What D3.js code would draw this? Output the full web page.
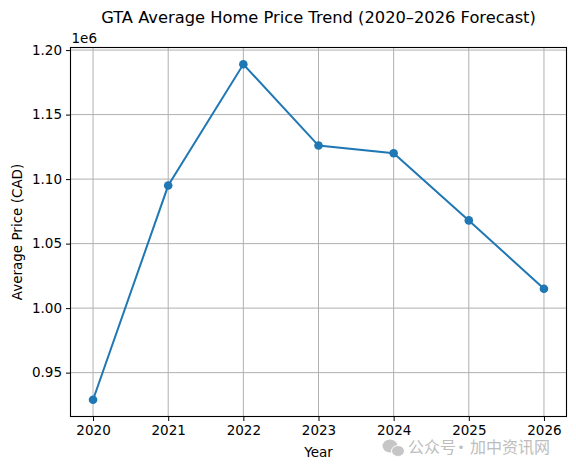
<!DOCTYPE html>
<html>
<head>
<meta charset="utf-8">
<script src="https://cdn.jsdelivr.net/npm/d3@7"></script>
<style>
  body { margin: 0; background: #fff; }
  svg { display: block; font-family: "DejaVu Sans", sans-serif; }
</style>
</head>
<body>
<div id="chart"></div>
<script>
// data
const years = [2020, 2021, 2022, 2023, 2024, 2025, 2026];
const prices = [929000, 1095000, 1189000, 1126000, 1120000, 1068000, 1015000];
const yTicks = [950000, 1000000, 1050000, 1100000, 1150000, 1200000];

const W = 576, H = 470;
const margin = { top: 47.5, right: 9.5, bottom: 53.5, left: 70.5 };
const width = W - margin.left - margin.right;
const height = H - margin.top - margin.bottom;

const svg = d3.select("#chart").append("svg")
  .attr("width", W)
  .attr("height", H);

const g = svg.append("g")
  .attr("transform", "translate(" + margin.left + "," + margin.top + ")");

// matplotlib style 5% margins
const xPad = (d3.max(years) - d3.min(years)) * 0.05;
const x = d3.scaleLinear()
  .domain([d3.min(years) - xPad, d3.max(years) + xPad])
  .range([0, width]);

const yPad = (d3.max(prices) - d3.min(prices)) * 0.05;
const y = d3.scaleLinear()
  .domain([d3.min(prices) - yPad, d3.max(prices) + yPad])
  .range([height, 0]);

// grid
g.append("g")
  .selectAll("line.gx")
  .data(years)
  .join("line")
  .attr("x1", d => x(d)).attr("x2", d => x(d))
  .attr("y1", 0).attr("y2", height)
  .attr("stroke", "#b0b0b0").attr("stroke-width", 1);

g.append("g")
  .selectAll("line.gy")
  .data(yTicks)
  .join("line")
  .attr("x1", 0).attr("x2", width)
  .attr("y1", d => y(d)).attr("y2", d => y(d))
  .attr("stroke", "#b0b0b0").attr("stroke-width", 1);

// axes
const xAxis = g.append("g")
  .attr("transform", "translate(0," + height + ")")
  .call(d3.axisBottom(x).tickValues(years).tickFormat(d3.format("d")).tickSizeInner(4.5).tickSizeOuter(0).tickPadding(4));

const yAxis = g.append("g")
  .call(d3.axisLeft(y).tickValues(yTicks).tickFormat(d => (d / 1e6).toFixed(2)).tickSizeInner(4.5).tickSizeOuter(0).tickPadding(4));

[xAxis, yAxis].forEach(a => {
  a.select(".domain").remove();
  a.selectAll("text").attr("font-size", 13.5).attr("fill", "#000").attr("font-family", "DejaVu Sans");
  a.selectAll("line").attr("stroke", "#000").attr("stroke-width", 1);
});

// frame
g.append("rect")
  .attr("width", width).attr("height", height)
  .attr("fill", "none").attr("stroke", "#000").attr("stroke-width", 1.1);

// line + markers
const pts = years.map((yr, i) => ({ year: yr, price: prices[i] }));

g.append("path")
  .datum(pts)
  .attr("fill", "none")
  .attr("stroke", "#1f77b4")
  .attr("stroke-width", 2)
  .attr("d", d3.line().x(d => x(d.year)).y(d => y(d.price)));

g.selectAll("circle")
  .data(pts)
  .join("circle")
  .attr("cx", d => x(d.year))
  .attr("cy", d => y(d.price))
  .attr("r", 4.3)
  .attr("fill", "#1f77b4");

// texts
svg.append("text")
  .attr("x", margin.left + width / 2).attr("y", 23)
  .attr("text-anchor", "middle").attr("font-size", 16.3)
  .text("GTA Average Home Price Trend (2020–2026 Forecast)");

svg.append("text")
  .attr("x", margin.left + 1).attr("y", 43)
  .attr("font-size", 13.5)
  .text("1e6");

svg.append("text")
  .attr("x", margin.left + width / 2).attr("y", 456.5)
  .attr("text-anchor", "middle").attr("font-size", 13.5)
  .text("Year");

svg.append("text")
  .attr("transform", "translate(22," + (margin.top + height / 2) + ") rotate(-90)")
  .attr("text-anchor", "middle").attr("font-size", 13.5)
  .text("Average Price (CAD)");

// watermark
const wm = svg.append("g").attr("opacity", 0.75);
wm.append("ellipse").attr("cx", 390).attr("cy", 446).attr("rx", 7.5).attr("ry", 6.5).attr("fill", "#b4b4b4");
wm.append("ellipse").attr("cx", 398).attr("cy", 451).attr("rx", 6.5).attr("ry", 5.5).attr("fill", "#b4b4b4").attr("stroke", "#fff").attr("stroke-width", 1);
wm.append("text")
  .attr("x", 408).attr("y", 453)
  .attr("font-family", "Noto Sans CJK SC").attr("font-size", 16)
  .attr("fill", "#a8a8a8")
  .text("公众号");
wm.append("text")
  .attr("x", 461).attr("y", 453)
  .attr("text-anchor", "middle")
  .attr("font-family", "Noto Sans CJK SC").attr("font-size", 16)
  .attr("fill", "#a8a8a8")
  .text("·");
wm.append("text")
  .attr("x", 470).attr("y", 453)
  .attr("font-family", "Noto Sans CJK SC").attr("font-size", 16)
  .attr("fill", "#a8a8a8")
  .text("加中资讯网");
</script>
</body>
</html>
